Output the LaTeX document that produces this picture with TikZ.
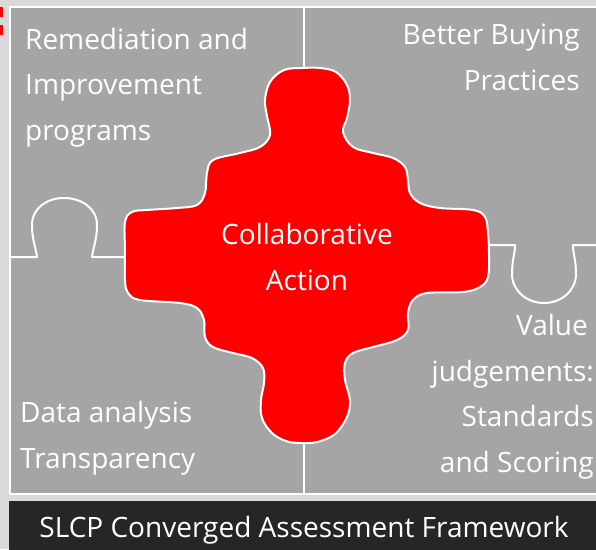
\documentclass[tikz,border=0pt]{standalone}
\usepackage{fontspec}
\setmainfont{Open Sans}
\definecolor{backgray}{HTML}{D9D9D9}
\definecolor{panelgray}{HTML}{A5A5A5}
\definecolor{barblack}{HTML}{262626}
\definecolor{actionred}{HTML}{FF0000}
\tikzset{
	seam/.style={draw=white, line width=2pt, line join=round},
	blocktext/.style={text=white, inner sep=0pt, font=\fontsize{28}{45.5}\selectfont}
}
\begin{document}
\begin{tikzpicture}[x=1pt,y=-1pt]
	\useasboundingbox (0,0) rectangle (596,549);
	\fill[backgray] (0,0) rectangle (596,549);
	\fill[actionred] (0,7) rectangle (3,17);
	\fill[actionred] (0,25) rectangle (3,35);
	\draw[seam, fill=panelgray] (10,7) rectangle (602,494);
	\fill[barblack] (9,501) rectangle (600,552);
	% seams between the pieces
	\draw[seam] (304,7) -- (304,70);
	\draw[seam] (304,441) -- (304,494);
	\draw[seam] (10,257) -- (37,257) .. controls (36,248) and (32,240) .. (32,225)
		.. controls (32,208) and (47,198) .. (64,198) .. controls (81,198) and (97,208) .. (97,225)
		.. controls (97,240) and (93,248) .. (92,257) -- (127,257);
	\draw[seam] (488,245) -- (515,245) .. controls (515,254) and (512,260) .. (512,274)
		.. controls (512,291) and (527,303) .. (544,303) .. controls (561,303) and (576,291) .. (576,274)
		.. controls (576,260) and (573,254) .. (573,245) -- (600,245);
	% centre piece
	\draw[seam, fill=actionred] plot[smooth cycle, tension=0.6] coordinates {
		(303,68) (320,68) (336,72) (347,85) (350,100) (347,118) (343,132) (353,147) (373,153)
		(393,158) (405,167) (408,180) (410,193) (420,203) (440,208) (473,210) (485,217) (488,233)
		(489,255) (488,277) (480,287) (463,292) (427,293) (413,300) (408,313) (408,330) (397,340)
		(373,347) (353,353) (345,363) (345,380) (350,400) (347,417) (335,434) (317,442) (300,443)
		(286,441) (272,433) (262,418) (261,400) (264,383) (263,368) (252,358) (233,353) (213,347)
		(205,337) (204,320) (197,308) (180,303) (140,300) (128,293) (125,280) (125,250) (125,222)
		(132,212) (147,210) (177,208) (197,205) (205,193) (207,173) (213,160) (240,153) (260,147)
		(270,135) (267,116) (265,100) (270,82) (284,70)};
	% texts (base = last line)
	\node[blocktext, anchor=base west, align=left] (remedy) at (25,140) {Remediation and\\Improvement\\programs};
	\node[blocktext, anchor=base east, align=right] (buying) at (580,90) {Better Buying\\Practices};
	\node[blocktext, anchor=base, align=center] (collab) at (307,290) {Collaborative\\Action};
	\node[blocktext, anchor=base east, align=right] (value) at (594,472) {Value\hspace*{6pt}\\judgements:\\Standards\hspace*{6pt}\\and Scoring};
	\node[blocktext, anchor=base west, align=left] (data) at (20,468) {Data analysis\\Transparency};
	\node[blocktext, anchor=base] (framework) at (304,537) {SLCP Converged Assessment Framework};
\end{tikzpicture}
\end{document}
